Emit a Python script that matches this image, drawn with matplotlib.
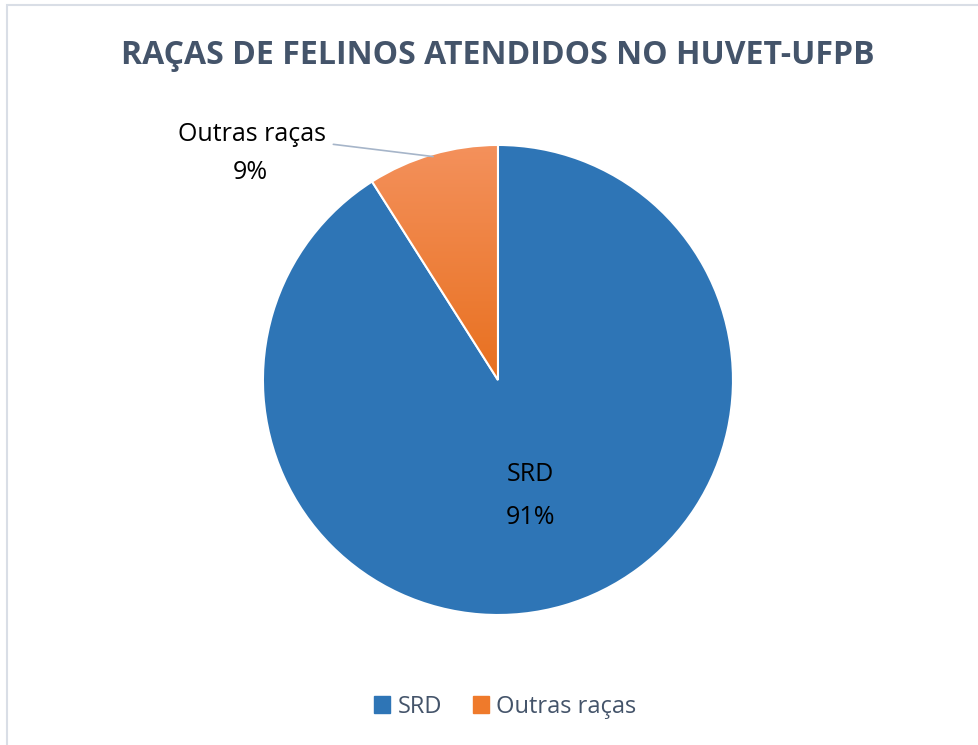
import numpy as np
import matplotlib.pyplot as plt
from matplotlib.patches import Rectangle
from matplotlib.colors import LinearSegmentedColormap

categorias = ['SRD', 'Outras raças']
valores = [91, 9]
cores = ['#2E75B6', '#ED7D31']
titulo = 'RAÇAS DE FELINOS ATENDIDOS NO HUVET-UFPB'

plt.rcParams['font.family'] = ['Open Sans', 'DejaVu Sans']

fig = plt.figure(figsize=(9.79, 7.45), dpi=100)
ax = fig.add_axes([0.2686, 0.1745, 0.4801, 0.6309])

wedges, _ = ax.pie(valores, colors=cores, startangle=90, counterclock=False,
                   radius=1.0, wedgeprops=dict(edgecolor='white', linewidth=1.5))
ax.set_xlim(-1, 1)
ax.set_ylim(-1, 1)
ax.set_aspect('equal')

# gradient on the orange slice
grad = LinearSegmentedColormap.from_list('laranja', ['#E8701F', '#F4915C'])
img = ax.imshow(np.linspace(0, 1, 256).reshape(-1, 1), cmap=grad, origin='lower',
                extent=[-1, 1, 0, 1], aspect='auto', zorder=wedges[1].get_zorder() + 0.1)
img.set_clip_path(wedges[1])
wedges[1].set_facecolor('none')
wedges[1].set_zorder(img.get_zorder() + 0.1)

# labels
total = sum(valores)
t1 = wedges[0]
ang = np.deg2rad((t1.theta1 + t1.theta2) / 2)
ax.text(0.5 * np.cos(ang), 0.5 * np.sin(ang) + 0.078, categorias[0], ha='center', va='center',
        fontsize=18, color='black')
ax.text(0.5 * np.cos(ang), 0.5 * np.sin(ang) - 0.105, f'{valores[0] / total:.0%}',
        ha='center', va='center', fontsize=18, color='black')

t2 = wedges[1]
ang2 = np.deg2rad((t2.theta1 + t2.theta2) / 2)
ax.annotate(categorias[1], xy=(np.cos(ang2) * 0.99, np.sin(ang2) * 0.99),
            xytext=(-0.73, 1.045), ha='right', va='center', fontsize=18, color='black',
            arrowprops=dict(arrowstyle='-', color='#A6B5C9', lw=1.2, shrinkA=3, shrinkB=0),
            annotation_clip=False)
ax.text(-1.055, 0.885, f'{valores[1] / total:.0%}', ha='center', va='center',
        fontsize=18, color='black')

fig.text(0.5087, 0.926, titulo, ha='center', va='center', fontsize=23,
         fontweight='bold', color='#44546A')

handles = [Rectangle((0, 0), 1, 1, color=c) for c in ['#2E75B6', '#EF7A2B']]
fig.legend(handles, categorias, loc='center', bbox_to_anchor=(0.516, 0.051), ncol=2,
           frameon=False, fontsize=17, labelcolor='#44546A', handlelength=0.7,
           handleheight=0.7, handletextpad=0.3, columnspacing=1.3)

# light frame
fig.add_artist(Rectangle((7 / 979, -0.1), 1.2, 1.1 - 5 / 745, transform=fig.transFigure,
                         fill=False, edgecolor='#D9DEE6', linewidth=1.5))

fig.savefig('out.png', dpi=100)
